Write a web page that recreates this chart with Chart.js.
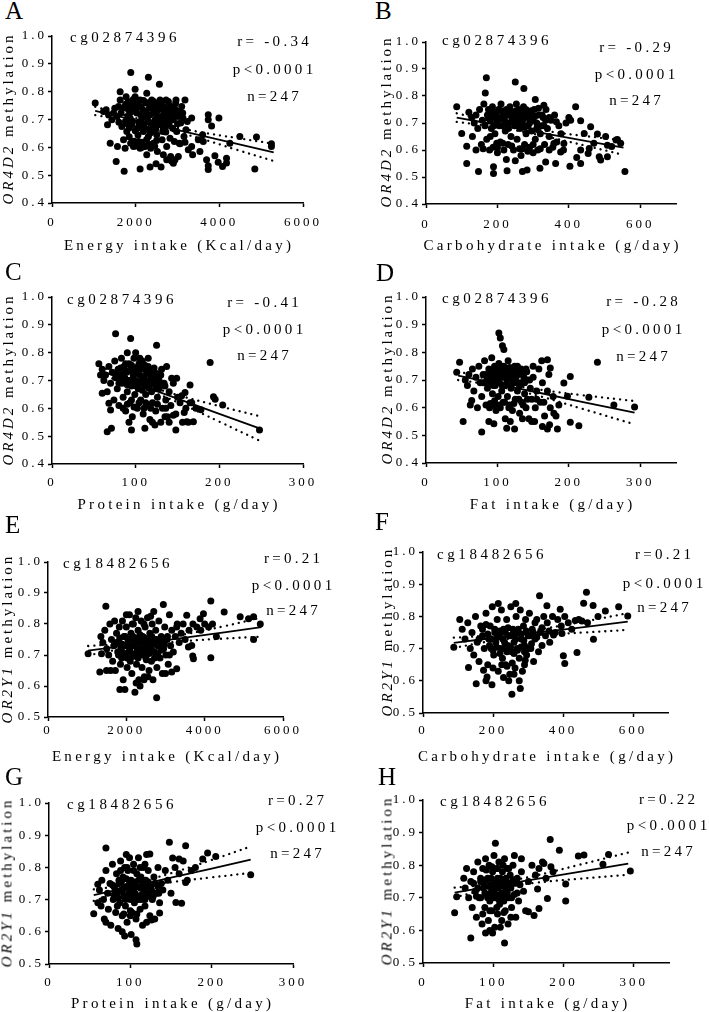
<!DOCTYPE html>
<html><head><meta charset="utf-8">
<script src="https://cdn.jsdelivr.net/npm/chart.js@4.4.0/dist/chart.umd.min.js"></script>
<style>
html,body{margin:0;padding:0;background:#fff}
body{position:relative;width:709px;height:1012px;overflow:hidden;color:#000}
.t{position:absolute;white-space:pre;color:#000}
.panel{position:absolute}
</style></head><body>
<script>
// ---------- tick labels ----------
const xTicksEnergy = [0, 2000, 4000, 6000];
const xTicksCarb = [0, 200, 400, 600];
const xTicksProtein = [0, 100, 200, 300];
const xTicksFat = [0, 100, 200, 300];
const yTicksOR4D2 = [0.4, 0.5, 0.6, 0.7, 0.8, 0.9, 1.0];
const yTicksOR2Y1 = [0.5, 0.6, 0.7, 0.8, 0.9, 1.0];

// ---------- texts ----------
const panelLetters = ['A','B','C','D','E','F','G','H'];
const cpgLabels = ['cg02874396','cg02874396','cg02874396','cg02874396','cg18482656','cg18482656','cg18482656','cg18482656'];
const geneNames = ['OR4D2','OR4D2','OR4D2','OR4D2','OR2Y1','OR2Y1','OR2Y1','OR2Y1'];
const rLabels = ['r= -0.34','r= -0.29','r= -0.41','r= -0.28','r=0.21','r=0.21','r=0.27','r=0.22'];
const pLabels = ['p<0.0001','p<0.0001','p<0.0001','p<0.0001','p<0.0001','p<0.0001','p<0.0001','p<0.0001'];
const nLabels = ['n=247','n=247','n=247','n=247','n=247','n=247','n=247','n=247'];
const xTitles = ['Energy intake (Kcal/day)','Carbohydrate intake (g/day)','Protein intake (g/day)','Fat intake (g/day)',
                 'Energy intake (Kcal/day)','Carbohydrate intake (g/day)','Protein intake (g/day)','Fat intake (g/day)'];

// ---------- scatter points [intake, methylation] ----------
const ptsA = [[1033,0.759],[1629,0.80],[1883,0.869],[2305,0.852],[2567,0.827],[1987,0.809],[1391,0.615],[1534,0.549],[1725,0.514],[2106,0.522],[2344,0.529],[2487,0.541],[2607,0.529],[2901,0.543],[2940,0.555],[3361,0.573],[3536,0.585],[3695,0.555],[3735,0.534],[3735,0.52],[3894,0.57],[3973,0.546],[4077,0.531],[4172,0.561],[4172,0.544],[4848,0.522],[3990,0.705],[3735,0.717],[3735,0.699],[3338,0.705],[3815,0.677],[4490,0.639],[4888,0.637],[5245,0.613],[5245,0.603],[4252,0.615],[3600,0.645],[3497,0.627],[3616,0.621],[3338,0.603],[3179,0.618],[3060,0.613],[2964,0.77],[3179,0.77],[3100,0.747],[2940,0.723],[2781,0.765],[2662,0.747],
[1232,0.729],[1295,0.735],[1351,0.717],[1327,0.681],[1431,0.699],[1470,0.723],[1550,0.711],[1590,0.747],[1565,0.603],[1630,0.77],[1670,0.675],[1710,0.627],[1748,0.597],[1788,0.657],[1772,0.782],[1828,0.735],[1867,0.705],[1907,0.681],[1947,0.603],[1931,0.759],[1987,0.782],[2026,0.723],[2042,0.669],[2066,0.621],[2090,0.603],[2106,0.77],[2146,0.705],[2170,0.735],[2185,0.657],[2225,0.603],[2249,0.759],[2265,0.794],[2289,0.693],[2305,0.639],[2328,0.741],[2344,0.717],[2360,0.597],[2384,0.77],[2408,0.669],[2424,0.615],[2440,0.723],[2463,0.699],[2487,0.753],[2503,0.645],[2519,0.585],[2543,0.735],[2567,0.681],[2583,0.77],[2607,0.711],[2631,0.627],[2646,0.657],[2662,0.573],[2678,0.729],[2702,0.675],[2726,0.77],[2742,0.603],[2766,0.699],[2797,0.717],[2821,0.633],[2837,0.567],[2861,0.735],[2885,0.669],[2901,0.699],[2925,0.621],[2956,0.759],[2980,0.657],[3020,0.711],[3044,0.615],[3076,0.687],[3124,0.723],[3155,0.639],[3203,0.663],[3234,0.693],[3258,0.591],[2861,0.55],[3020,0.567],[2742,0.555],[2265,0.573],[2106,0.597],
[1705,0.742],[1812,0.713],[1893,0.728],[2012,0.751],[2117,0.718],[2203,0.684],[2296,0.712],[2412,0.738],[2508,0.706],[2615,0.742],[2690,0.698],[1846,0.638],[1958,0.622],[2055,0.644],[2148,0.618],[2262,0.628],[2357,0.652],[2455,0.604],[1652,0.724],[1757,0.694],
[1760,0.755],[1820,0.765],[1880,0.748],[1940,0.772],[2000,0.735],[2060,0.758],[2130,0.745],[2190,0.768],[2240,0.73],[2310,0.76],[2370,0.745],[2430,0.765],[2490,0.722],[2550,0.75],[2620,0.765],[2680,0.712],[2740,0.735],[2810,0.75],[2870,0.705],[2930,0.74],[1790,0.685],[1850,0.67],[1920,0.695],[1990,0.66],[2070,0.69],[2140,0.675],[2210,0.71],[2280,0.665],[2350,0.688],[2420,0.68],[2480,0.665],[2560,0.69],[2640,0.68],[2720,0.655],[2800,0.685],[3060,0.73],[3130,0.705],[3000,0.685],[1600,0.69],[1500,0.74],[2150,0.60],[2320,0.61],[2500,0.625],[2000,0.605],[1880,0.615]];

const ptsB = [[86,0.76],[100,0.661],[114,0.614],[114,0.55],[147,0.52],[169,0.868],[166,0.811],[189,0.513],[189,0.538],[227,0.523],[250,0.852],[274,0.828],[270,0.52],[283,0.526],[319,0.532],[335,0.556],[363,0.55],[330,0.766],[306,0.787],[403,0.54],[433,0.55],[422,0.572],[419,0.76],[400,0.72],[433,0.708],[443,0.661],[480,0.659],[508,0.618],[557,0.52],[532,0.637],[536,0.639],[485,0.575],[489,0.563],[457,0.606],[454,0.587],[508,0.575],[358,0.624],[377,0.593],[386,0.624],[405,0.71],[433,0.60],[461,0.686],[503,0.65],[470,0.625],[520,0.613],[545,0.625],
[120,0.74],[128,0.72],[135,0.70],[140,0.73],[145,0.68],[150,0.75],[155,0.62],[158,0.71],[162,0.77],[165,0.69],[170,0.64],[172,0.73],[175,0.75],[178,0.60],[180,0.71],[183,0.68],[186,0.76],[188,0.61],[190,0.73],[193,0.66],[196,0.74],[198,0.70],[200,0.59],[203,0.75],[205,0.72],[208,0.63],[210,0.77],[212,0.69],[215,0.74],[218,0.60],[220,0.71],[222,0.67],[225,0.75],[228,0.73],[230,0.62],[232,0.70],[235,0.76],[238,0.65],[240,0.72],[243,0.74],[245,0.60],[248,0.69],[250,0.73],[253,0.77],[255,0.64],[258,0.71],[260,0.75],[263,0.68],[266,0.58],[268,0.73],[270,0.70],[273,0.76],[276,0.62],[278,0.72],[280,0.66],[283,0.74],[286,0.69],[290,0.61],[293,0.73],[296,0.67],[300,0.71],[303,0.75],[306,0.64],[310,0.70],[313,0.60],[316,0.73],[320,0.66],[324,0.69],[328,0.72],[332,0.62],[336,0.75],[340,0.68],[345,0.65],[350,0.71],[355,0.61],[360,0.73],[366,0.63],[372,0.69],[378,0.66],[385,0.60],[392,0.70],[262,0.605],[285,0.595],[198,0.625],[160,0.605],[140,0.60],[130,0.65],[225,0.565],[250,0.56],[300,0.59],
[175,0.72],[185,0.74],[195,0.72],[205,0.69],[212,0.745],[220,0.73],[228,0.695],[236,0.74],[244,0.71],[252,0.745],[258,0.725],[265,0.745],[272,0.715],[280,0.75],[288,0.72],[295,0.745],[305,0.725],[315,0.755],[325,0.73],[335,0.71],[190,0.69],[200,0.705],[215,0.715],[230,0.68],[245,0.73],[262,0.70],[275,0.685],[290,0.70],[310,0.68],[330,0.69],[345,0.72],[365,0.705],[200,0.61],[215,0.625],[240,0.615],[270,0.605],[300,0.62],[320,0.605],[180,0.65],[345,0.60]];

const ptsC = [[76,0.868],[94,0.851],[125,0.827],[189,0.765],[248,0.522],[66,0.516],[71,0.528],[95,0.522],[111,0.528],[123,0.54],[148,0.522],[161,0.552],[169,0.552],[193,0.642],[195,0.633],[204,0.612],[165,0.684],[159,0.657],[143,0.708],[149,0.708],[137,0.75],[56,0.76],[58,0.72],[60,0.654],[68,0.618],[70,0.594],[155,0.645],[165,0.62],[172,0.60],[178,0.595],[158,0.585],[145,0.575],[135,0.57],
[60,0.74],[62,0.70],[64,0.72],[66,0.66],[68,0.75],[70,0.69],[72,0.73],[74,0.63],[75,0.77],[76,0.71],[78,0.67],[79,0.74],[80,0.61],[82,0.72],[83,0.78],[84,0.69],[85,0.64],[86,0.75],[87,0.71],[88,0.59],[89,0.73],[90,0.80],[90,0.66],[91,0.70],[92,0.76],[93,0.62],[94,0.74],[95,0.68],[96,0.57],[97,0.72],[98,0.78],[99,0.65],[100,0.70],[101,0.74],[102,0.60],[103,0.67],[104,0.76],[105,0.72],[106,0.63],[107,0.69],[108,0.77],[109,0.58],[110,0.71],[111,0.74],[112,0.65],[113,0.68],[114,0.61],[115,0.75],[116,0.70],[117,0.56],[118,0.72],[119,0.66],[120,0.62],[121,0.73],[122,0.69],[124,0.59],[125,0.71],[126,0.64],[128,0.67],[130,0.72],[132,0.60],[134,0.69],[136,0.63],[138,0.57],[140,0.66],[142,0.61],[145,0.69],[148,0.58],[150,0.64],[153,0.62],[156,0.55],[160,0.60],[163,0.55],[167,0.62],[100,0.80],[105,0.78],[115,0.78],[85,0.60],[95,0.63],[110,0.60],[120,0.55],[130,0.55],[140,0.55],[92,0.55],
[78,0.72],[82,0.745],[86,0.725],[88,0.76],[92,0.735],[95,0.755],[98,0.745],[100,0.725],[103,0.75],[106,0.74],[108,0.705],[111,0.755],[113,0.725],[116,0.74],[119,0.705],[122,0.745],[125,0.725],[128,0.70],[131,0.74],[80,0.69],[84,0.705],[90,0.685],[94,0.70],[97,0.69],[101,0.68],[104,0.695],[108,0.665],[112,0.69],[116,0.675],[120,0.69],[124,0.67],[128,0.685],[135,0.68],[90,0.615],[98,0.605],[104,0.62],[112,0.62],[118,0.60],[126,0.615],[136,0.60]];

const ptsD = [[43,0.728],[47,0.764],[52,0.55],[64,0.626],[78,0.512],[102,0.87],[104,0.852],[107,0.824],[109,0.81],[240,0.764],[292,0.602],[263,0.61],[228,0.638],[202,0.713],[214,0.535],[202,0.547],[184,0.523],[170,0.523],[163,0.532],[173,0.538],[179,0.58],[170,0.773],[174,0.743],[193,0.689],[198,0.641],[113,0.526],[124,0.523],[95,0.542],
[55,0.70],[58,0.68],[60,0.72],[62,0.61],[65,0.74],[67,0.66],[70,0.71],[72,0.60],[74,0.75],[76,0.69],[78,0.64],[80,0.72],[82,0.77],[84,0.61],[85,0.70],[86,0.67],[88,0.74],[89,0.60],[90,0.72],[92,0.78],[93,0.65],[94,0.70],[95,0.61],[96,0.75],[97,0.68],[98,0.59],[99,0.73],[100,0.71],[101,0.64],[102,0.76],[103,0.69],[104,0.60],[105,0.73],[106,0.66],[107,0.71],[108,0.62],[109,0.75],[110,0.68],[111,0.56],[112,0.73],[113,0.70],[114,0.64],[115,0.77],[116,0.71],[117,0.61],[118,0.74],[119,0.67],[120,0.72],[121,0.59],[122,0.69],[124,0.75],[125,0.63],[126,0.71],[128,0.66],[130,0.73],[131,0.58],[132,0.69],[134,0.62],[136,0.72],[138,0.65],[140,0.60],[142,0.70],[144,0.56],[146,0.67],[148,0.63],[150,0.71],[153,0.60],[155,0.66],[158,0.74],[160,0.62],[163,0.69],[166,0.57],[170,0.66],[174,0.60],[178,0.64],[182,0.57],[186,0.61],[148,0.55],[152,0.55],[135,0.56],[88,0.55],[118,0.55],[128,0.75],[140,0.74],[150,0.75],[162,0.77],[172,0.72],
[84,0.72],[88,0.705],[92,0.73],[96,0.72],[99,0.745],[102,0.705],[105,0.745],[108,0.725],[111,0.74],[114,0.715],[117,0.745],[120,0.705],[123,0.73],[126,0.745],[129,0.72],[133,0.74],[137,0.71],[141,0.73],[80,0.69],[87,0.685],[94,0.68],[100,0.69],[107,0.68],[113,0.685],[119,0.675],[125,0.69],[131,0.68],[138,0.69],[145,0.70],[90,0.615],[96,0.625],[103,0.61],[110,0.62],[116,0.60],[123,0.615],[130,0.63],[136,0.61],[142,0.63],[155,0.63],[165,0.62]];

const ptsE = [[1024,0.704],[1366,0.704],[1477,0.857],[2774,0.562],[2945,0.863],[2219,0.58],[1835,0.589],[1963,0.589],[4157,0.874],[4157,0.691],[4498,0.839],[3713,0.688],[3695,0.697],[5249,0.823],[5420,0.80],[5249,0.75],[4907,0.823],[5120,0.817],[3542,0.828],[3286,0.79],[3969,0.833],[3883,0.817],[3670,0.731],[3585,0.726],[3286,0.656],[3158,0.645],[1323,0.645],[1494,0.65],
[1350,0.76],[1400,0.74],[1450,0.78],[1500,0.72],[1550,0.70],[1580,0.80],[1620,0.75],[1650,0.68],[1680,0.73],[1700,0.81],[1720,0.65],[1750,0.77],[1780,0.71],[1800,0.74],[1820,0.79],[1850,0.67],[1870,0.72],[1900,0.81],[1920,0.62],[1940,0.76],[1960,0.70],[1980,0.73],[2000,0.79],[2020,0.66],[2040,0.75],[2060,0.71],[2080,0.83],[2100,0.68],[2120,0.77],[2140,0.64],[2160,0.73],[2180,0.80],[2200,0.70],[2220,0.75],[2240,0.82],[2260,0.67],[2280,0.72],[2300,0.78],[2320,0.62],[2340,0.74],[2360,0.70],[2380,0.81],[2400,0.66],[2420,0.76],[2440,0.72],[2460,0.63],[2480,0.79],[2500,0.69],[2520,0.74],[2540,0.82],[2560,0.71],[2580,0.65],[2600,0.77],[2620,0.73],[2640,0.68],[2660,0.80],[2680,0.62],[2700,0.75],[2720,0.71],[2750,0.78],[2780,0.66],[2800,0.73],[2830,0.81],[2860,0.69],[2890,0.76],[2920,0.64],[2950,0.72],[2980,0.79],[3010,0.70],[3040,0.75],[3070,0.67],[3100,0.83],[3130,0.73],[3160,0.78],[3200,0.71],[3250,0.76],[3300,0.80],[3350,0.74],[3400,0.77],[3450,0.80],[3500,0.75],[3600,0.78],[3700,0.80],[3800,0.79],[3900,0.78],[4000,0.80],[4100,0.79],[4200,0.80],[4300,0.76],[2250,0.61],[2350,0.60],[2450,0.62],[2550,0.63],[1600,0.65],[3000,0.64],[2700,0.84],[2300,0.84],[2000,0.83],
[1750,0.74],[1830,0.755],[1900,0.735],[1970,0.76],[2030,0.73],[2100,0.75],[2170,0.76],[2230,0.735],[2290,0.755],[2350,0.765],[2410,0.74],[2470,0.755],[2530,0.73],[2590,0.75],[2650,0.76],[2710,0.735],[2770,0.75],[2840,0.74],[2900,0.755],[2970,0.735],[1800,0.70],[1880,0.69],[1950,0.705],[2020,0.69],[2090,0.715],[2160,0.695],[2230,0.705],[2300,0.69],[2370,0.72],[2440,0.70],[2510,0.685],[2580,0.705],[2650,0.715],[2720,0.69],[2800,0.70],[2880,0.715],[3100,0.70],[3050,0.76],[2150,0.80],[2450,0.80],[2620,0.825]];

const ptsF = [[88,0.704],[152,0.591],[183,0.612],[197,0.588],[254,0.558],[278,0.576],[173,0.633],[130,0.641],[333,0.864],[467,0.875],[459,0.841],[486,0.834],[521,0.817],[559,0.83],[585,0.801],[487,0.729],[405,0.654],[401,0.678],[440,0.688],[392,0.822],[354,0.833],[373,0.742],[397,0.747],[435,0.787],[454,0.786],[292,0.664],
[105,0.79],[112,0.76],[120,0.73],[128,0.78],[135,0.70],[140,0.75],[145,0.68],[150,0.80],[155,0.72],[160,0.66],[165,0.77],[170,0.74],[175,0.70],[180,0.81],[185,0.65],[188,0.73],[192,0.77],[195,0.70],[198,0.83],[202,0.68],[205,0.75],[208,0.72],[212,0.79],[215,0.63],[218,0.74],[221,0.70],[224,0.82],[227,0.67],[230,0.76],[233,0.72],[236,0.65],[239,0.79],[242,0.71],[245,0.74],[248,0.62],[251,0.83],[254,0.69],[257,0.76],[260,0.72],[263,0.64],[266,0.80],[269,0.70],[272,0.75],[275,0.67],[278,0.82],[281,0.73],[284,0.63],[287,0.77],[290,0.71],[293,0.79],[296,0.68],[300,0.74],[304,0.81],[308,0.70],[312,0.76],[316,0.66],[320,0.73],[325,0.79],[330,0.69],[335,0.75],[340,0.71],[345,0.80],[350,0.74],[355,0.78],[362,0.72],[370,0.80],[378,0.75],[385,0.79],[395,0.77],[405,0.80],[415,0.78],[425,0.76],[445,0.79],[470,0.78],[500,0.80],[230,0.61],[260,0.62],[245,0.60],[275,0.60],[200,0.64],[290,0.65],[215,0.84],[265,0.84],[180,0.60],
[185,0.745],[195,0.73],[205,0.76],[212,0.735],[220,0.755],[228,0.73],[235,0.75],[243,0.765],[250,0.74],[258,0.745],[265,0.73],[272,0.76],[280,0.745],[288,0.725],[295,0.755],[305,0.74],[315,0.75],[325,0.735],[190,0.71],[200,0.695],[210,0.705],[220,0.685],[230,0.70],[240,0.69],[250,0.705],[260,0.685],[270,0.695],[280,0.705],[290,0.69],[300,0.70],[310,0.715],[160,0.73],[170,0.76],[180,0.775],[320,0.78],[340,0.765],[360,0.755],[240,0.645],[255,0.655],[225,0.65]];

const ptsG = [[55,0.656],[60,0.748],[70,0.86],[93,0.587],[101,0.592],[107,0.575],[108,0.562],[148,0.878],[168,0.867],[195,0.845],[205,0.834],[248,0.777],[156,0.691],[163,0.689],[168,0.753],[189,0.826],[152,0.829],[160,0.826],[136,0.658],[126,0.637],[124,0.842],
[62,0.73],[65,0.76],[67,0.70],[68,0.64],[70,0.79],[72,0.72],[73,0.67],[75,0.75],[76,0.62],[78,0.81],[79,0.70],[80,0.74],[82,0.66],[83,0.78],[84,0.72],[85,0.61],[86,0.76],[87,0.69],[88,0.82],[89,0.73],[90,0.65],[91,0.77],[92,0.71],[93,0.80],[94,0.68],[95,0.74],[96,0.63],[97,0.79],[98,0.72],[99,0.83],[100,0.70],[101,0.76],[102,0.66],[103,0.73],[104,0.81],[105,0.69],[106,0.75],[107,0.64],[108,0.78],[109,0.71],[110,0.83],[111,0.74],[112,0.67],[113,0.77],[114,0.70],[115,0.62],[116,0.80],[117,0.73],[118,0.68],[119,0.76],[120,0.71],[122,0.79],[124,0.65],[125,0.74],[127,0.70],[129,0.77],[130,0.64],[132,0.72],[134,0.80],[136,0.69],[138,0.75],[140,0.73],[143,0.79],[146,0.76],[150,0.72],[155,0.80],[160,0.78],[165,0.82],[170,0.76],[175,0.79],[180,0.80],[60,0.69],[64,0.68],[70,0.63],[90,0.60],[120,0.63],[100,0.65],[95,0.84],[120,0.84],
[78,0.745],[82,0.73],[86,0.75],[89,0.755],[92,0.735],[95,0.765],[98,0.745],[101,0.735],[104,0.755],[107,0.74],[110,0.76],[113,0.735],[116,0.75],[119,0.74],[122,0.755],[126,0.73],[130,0.75],[134,0.74],[80,0.715],[85,0.705],[90,0.725],[94,0.70],[98,0.715],[102,0.705],[106,0.72],[110,0.70],[114,0.715],[118,0.70],[122,0.72],[128,0.71],[135,0.72],[88,0.79],[96,0.80],[104,0.79],[112,0.80],[118,0.81],[100,0.665],[108,0.655],[92,0.655],[84,0.68]];

const ptsH = [[45,0.654],[48,0.703],[68,0.577],[89,0.592],[99,0.592],[116,0.561],[103,0.867],[181,0.879],[194,0.846],[221,0.828],[229,0.831],[256,0.803],[264,0.833],[295,0.782],[203,0.742],[203,0.69],[177,0.698],[165,0.667],[150,0.657],[158,0.646],[163,0.727],[182,0.795],[172,0.805],
[58,0.76],[60,0.73],[62,0.79],[65,0.70],[68,0.75],[70,0.67],[72,0.78],[74,0.72],[76,0.64],[78,0.81],[80,0.70],[82,0.75],[84,0.62],[85,0.79],[86,0.73],[88,0.67],[89,0.82],[90,0.71],[92,0.76],[93,0.63],[94,0.80],[95,0.69],[96,0.74],[98,0.66],[99,0.78],[100,0.72],[101,0.83],[102,0.61],[103,0.75],[104,0.70],[105,0.79],[106,0.65],[107,0.73],[108,0.81],[109,0.68],[110,0.76],[111,0.71],[112,0.63],[113,0.78],[114,0.74],[115,0.69],[116,0.82],[117,0.66],[118,0.75],[119,0.72],[120,0.79],[121,0.62],[122,0.70],[124,0.77],[125,0.73],[126,0.67],[128,0.80],[130,0.71],[132,0.64],[134,0.76],[136,0.69],[138,0.74],[140,0.78],[143,0.72],[146,0.66],[150,0.75],[155,0.80],[160,0.77],[165,0.79],[170,0.81],[175,0.76],[185,0.78],[130,0.83],[140,0.82],[110,0.61],[95,0.60],[125,0.64],
[72,0.745],[78,0.73],[82,0.76],[86,0.745],[90,0.755],[94,0.735],[97,0.76],[100,0.745],[103,0.73],[106,0.76],[109,0.74],[112,0.755],[115,0.735],[118,0.76],[121,0.745],[124,0.735],[128,0.755],[132,0.745],[76,0.705],[82,0.70],[88,0.715],[92,0.70],[96,0.715],[100,0.70],[104,0.71],[108,0.695],[112,0.715],[116,0.70],[120,0.715],[126,0.70],[134,0.715],[90,0.785],[98,0.795],[106,0.79],[114,0.80],[122,0.79],[95,0.66],[105,0.67],[115,0.655],[85,0.65]];

// ---------- regression lines and 95% bands ----------
const fitXA = [1033,1800,2600,3500,4400,5300];
const fitYA = [0.731,0.704,0.676,0.645,0.613,0.582];
const upA = [0.746,0.713,0.683,0.656,0.634,0.613];
const loA = [0.716,0.695,0.669,0.634,0.592,0.551];
const fitXB = [86,170,250,350,450,553];
const fitYB = [0.720,0.700,0.681,0.657,0.633,0.609];
const upB = [0.736,0.710,0.689,0.668,0.651,0.636];
const loB = [0.704,0.690,0.673,0.646,0.615,0.582];
const fitXC = [58,85,110,150,200,248];
const fitYC = [0.735,0.706,0.678,0.635,0.580,0.528];
const upC = [0.751,0.716,0.686,0.648,0.608,0.572];
const loC = [0.719,0.696,0.670,0.622,0.552,0.484];
const fitXD = [45,80,115,160,220,292];
const fitYD = [0.716,0.697,0.677,0.653,0.620,0.582];
const upD = [0.732,0.707,0.685,0.665,0.645,0.624];
const loD = [0.700,0.687,0.669,0.641,0.595,0.540];
const fitXE = [1024,1800,2600,3500,4500,5450];
const fitYE = [0.714,0.727,0.741,0.756,0.773,0.790];
const upE = [0.729,0.736,0.748,0.767,0.793,0.821];
const loE = [0.699,0.718,0.734,0.745,0.753,0.759];
const fitXF = [88,170,250,350,460,585];
const fitYF = [0.718,0.729,0.739,0.753,0.767,0.784];
const upF = [0.734,0.739,0.747,0.763,0.784,0.810];
const loF = [0.702,0.719,0.731,0.743,0.750,0.758];
const fitXG = [55,85,110,150,200,248];
const fitYG = [0.714,0.731,0.745,0.768,0.796,0.824];
const upG = [0.732,0.742,0.754,0.782,0.823,0.865];
const loG = [0.696,0.720,0.736,0.754,0.769,0.783];
const fitXH = [45,80,115,160,220,292];
const fitYH = [0.716,0.729,0.741,0.757,0.779,0.805];
const upH = [0.731,0.738,0.749,0.768,0.800,0.839];
const loH = [0.701,0.720,0.733,0.746,0.758,0.771];

// ---------- assembly ----------
const panelData = [
  {pts:ptsA, fx:fitXA, fy:fitYA, up:upA, lo:loA, xTicks:xTicksEnergy, xMax:6000, yTicks:yTicksOR4D2},
  {pts:ptsB, fx:fitXB, fy:fitYB, up:upB, lo:loB, xTicks:xTicksCarb, xMax:700, yTicks:yTicksOR4D2},
  {pts:ptsC, fx:fitXC, fy:fitYC, up:upC, lo:loC, xTicks:xTicksProtein, xMax:300, yTicks:yTicksOR4D2},
  {pts:ptsD, fx:fitXD, fy:fitYD, up:upD, lo:loD, xTicks:xTicksFat, xMax:350, yTicks:yTicksOR4D2},
  {pts:ptsE, fx:fitXE, fy:fitYE, up:upE, lo:loE, xTicks:xTicksEnergy, xMax:6000, yTicks:yTicksOR2Y1},
  {pts:ptsF, fx:fitXF, fy:fitYF, up:upF, lo:loF, xTicks:xTicksCarb, xMax:700, yTicks:yTicksOR2Y1},
  {pts:ptsG, fx:fitXG, fy:fitYG, up:upG, lo:loG, xTicks:xTicksProtein, xMax:300, yTicks:yTicksOR2Y1},
  {pts:ptsH, fx:fitXH, fy:fitYH, up:upH, lo:loH, xTicks:xTicksFat, xMax:350, yTicks:yTicksOR2Y1}
];

// page geometry (pixels)
const geom = [
  {ax:52,  top:36,  bot:203, right:303, xpad:7.5, letter:[5,19],   cg:[70,43],   stat:[273,47,75,102],   ytx:8,   xtb:251},
  {ax:426, top:42,  bot:204, right:676, xpad:8.5, letter:[375,19], cg:[442,46],  stat:[635,53,80,106],   ytx:386, xtb:251},
  {ax:52,  top:297, bot:464, right:303, xpad:7,   letter:[5,280],  cg:[67,305],  stat:[263,308,335,361], ytx:8,   xtb:510},
  {ax:426, top:297, bot:463, right:676, xpad:7.5, letter:[376,281],cg:[442,304], stat:[642,307,335,362], ytx:387, xtb:510},
  {ax:48,  top:562, bot:717, right:283, xpad:2,   letter:[5,533],  cg:[63,569],  stat:[292,564,591,616], ytx:7,   xtb:762},
  {ax:423, top:552, bot:713, right:668, xpad:5.5, letter:[375,530],cg:[437,560], stat:[663,560,589,613], ytx:387, xtb:762},
  {ax:49,  top:803, bot:964, right:293, xpad:6.5, letter:[5,785],  cg:[67,810],  stat:[296,806,833,859], ytx:7,   xtb:1009},
  {ax:423, top:800, bot:963, right:669, xpad:7.5, letter:[378,785],cg:[440,807], stat:[667,805,831,857], ytx:387, xtb:1009}
];

// pick an installed serif (Times-like) face
function fontAvailable(name){
  const c = document.createElement('canvas').getContext('2d');
  const s = 'abcdefghijklmnopqrstuvwxyzABCDEFGHIJKLM0123456789';
  for (const base of ['monospace', 'sans-serif']) {
    c.font = '20px ' + base; const w0 = c.measureText(s).width;
    c.font = '20px "' + name + '", ' + base; const w1 = c.measureText(s).width;
    if (Math.abs(w0 - w1) > 0.01) return true;
  }
  return false;
}
const serifCandidates = ['Liberation Serif', 'Times New Roman', 'Tinos', 'Nimbus Roman', 'DejaVu Serif', 'Noto Serif'];
const serifName = serifCandidates.find(fontAvailable) || 'serif';
const FONT = (serifName === 'serif') ? 'serif' : ('"' + serifName + '", serif');
document.body.style.fontFamily = FONT;

const TICK_LS = '3px';
const spacingPlugin = {id:'spacing', beforeDraw(chart){ chart.ctx.letterSpacing = TICK_LS; }};

function addText(html, x, baseline, size, ls, align){
  const d = document.createElement('div');
  d.className = 't';
  d.innerHTML = html;
  d.style.fontFamily = FONT;
  d.style.fontSize = size + 'px';
  d.style.lineHeight = size + 'px';
  d.style.letterSpacing = ls + 'px';
  d.style.top = (baseline - 0.8375 * size) + 'px';
  d.style.left = x + 'px';
  if (align === 'center') { d.style.transform = 'translateX(-50%)'; d.style.paddingLeft = ls + 'px'; }
  document.body.appendChild(d);
  return d;
}

function addYTitle(gene, cx, cy){
  const d = document.createElement('div');
  d.className = 't';
  d.innerHTML = '<i>' + gene + '</i> methylation';
  d.style.fontFamily = FONT;
  d.style.fontSize = '15px';
  d.style.lineHeight = '15px';
  d.style.letterSpacing = '3px';
  d.style.paddingLeft = '3px';
  d.style.left = cx + 'px';
  d.style.top = cy + 'px';
  d.style.transform = 'translate(-50%,-50%) rotate(-90deg)';
  document.body.appendChild(d);
}

function buildPanel(i){
  const p = panelData[i], g = geom[i];
  const YW = 50, XH = 36, PT = 10, PR = 34;
  const w = YW + (g.right - g.ax) + PR, h = PT + (g.bot - g.top) + XH;
  const div = document.createElement('div');
  div.className = 'panel';
  div.style.left = (g.ax - YW) + 'px';
  div.style.top = (g.top - PT) + 'px';
  div.style.width = w + 'px';
  div.style.height = h + 'px';
  const cv = document.createElement('canvas');
  cv.width = w; cv.height = h;
  cv.style.width = w + 'px'; cv.style.height = h + 'px';
  div.appendChild(cv);
  document.body.appendChild(div);
  const xy = (xs, ys) => xs.map((x, k) => ({x: x, y: ys[k]}));
  const band = (ys) => ({type:'line', data: xy(p.fx, ys), borderColor:'#000', borderWidth:2.3,
      borderDash:[0.1, 6], borderCapStyle:'round', pointRadius:0, tension:0.4, fill:false, order:1});
  new Chart(cv.getContext('2d'), {
    type: 'scatter',
    data: {datasets: [
      {data: p.pts.map(q => ({x: q[0], y: q[1]})), pointRadius: 3.5, pointHoverRadius: 3.5,
       backgroundColor: '#000', borderColor: '#000', borderWidth: 0, order: 2},
      {type:'line', data: xy(p.fx, p.fy), borderColor:'#000', borderWidth:1.8, pointRadius:0, fill:false, order:1},
      band(p.up), band(p.lo)
    ]},
    options: {
      responsive: false, animation: false, devicePixelRatio: 1, events: [],
      layout: {padding: {left: 0, top: PT, right: PR, bottom: 0}},
      plugins: {legend: {display: false}, tooltip: {enabled: false}, title: {display: false}},
      scales: {
        x: {type: 'linear', position: 'bottom', min: 0, max: p.xMax,
            afterBuildTicks: s => { s.ticks = p.xTicks.map(v => ({value: v})); },
            afterFit: s => { s.height = XH; s.paddingLeft = 0; s.paddingRight = 0; },
            ticks: {color: '#000', font: {family: FONT, size: 13}, padding: g.xpad, maxRotation: 0, minRotation: 0,
                    autoSkip: false, callback: v => String(v)},
            grid: {display: true, drawOnChartArea: false, drawTicks: true, tickLength: 4, tickWidth: 1.5, tickColor: '#000'},
            border: {display: true, color: '#000', width: 1.5}},
        y: {type: 'linear', min: p.yTicks[0], max: 1.0,
            afterBuildTicks: s => { s.ticks = p.yTicks.map(v => ({value: v})); },
            afterFit: s => { s.width = YW; s.paddingTop = 0; s.paddingBottom = 0; },
            ticks: {color: '#000', font: {family: FONT, size: 13}, padding: 1, autoSkip: false,
                    callback: v => Number(v).toFixed(1)},
            grid: {display: true, drawOnChartArea: false, drawTicks: true, tickLength: 4, tickWidth: 1.5, tickColor: '#000'},
            border: {display: true, color: '#000', width: 1.5}}
      }
    },
    plugins: [spacingPlugin]
  });

  // texts
  addText(panelLetters[i], g.letter[0], g.letter[1], 25, 0, 'left');
  addText(cpgLabels[i], g.cg[0], g.cg[1], 15, 3.6, 'left');
  addText(rLabels[i], g.stat[0], g.stat[1], 15, 3.3, 'center');
  addText(pLabels[i], g.stat[0], g.stat[2], 15, 3.3, 'center');
  addText(nLabels[i], g.stat[0], g.stat[3], 15, 3.3, 'center');
  addText(xTitles[i], (g.ax + g.right) / 2, g.xtb, 15, 3.3, 'center');
  addYTitle(geneNames[i], g.ytx, (g.top + g.bot) / 2);
}

for (let i = 0; i < 8; i++) buildPanel(i);
</script>
</body></html>
